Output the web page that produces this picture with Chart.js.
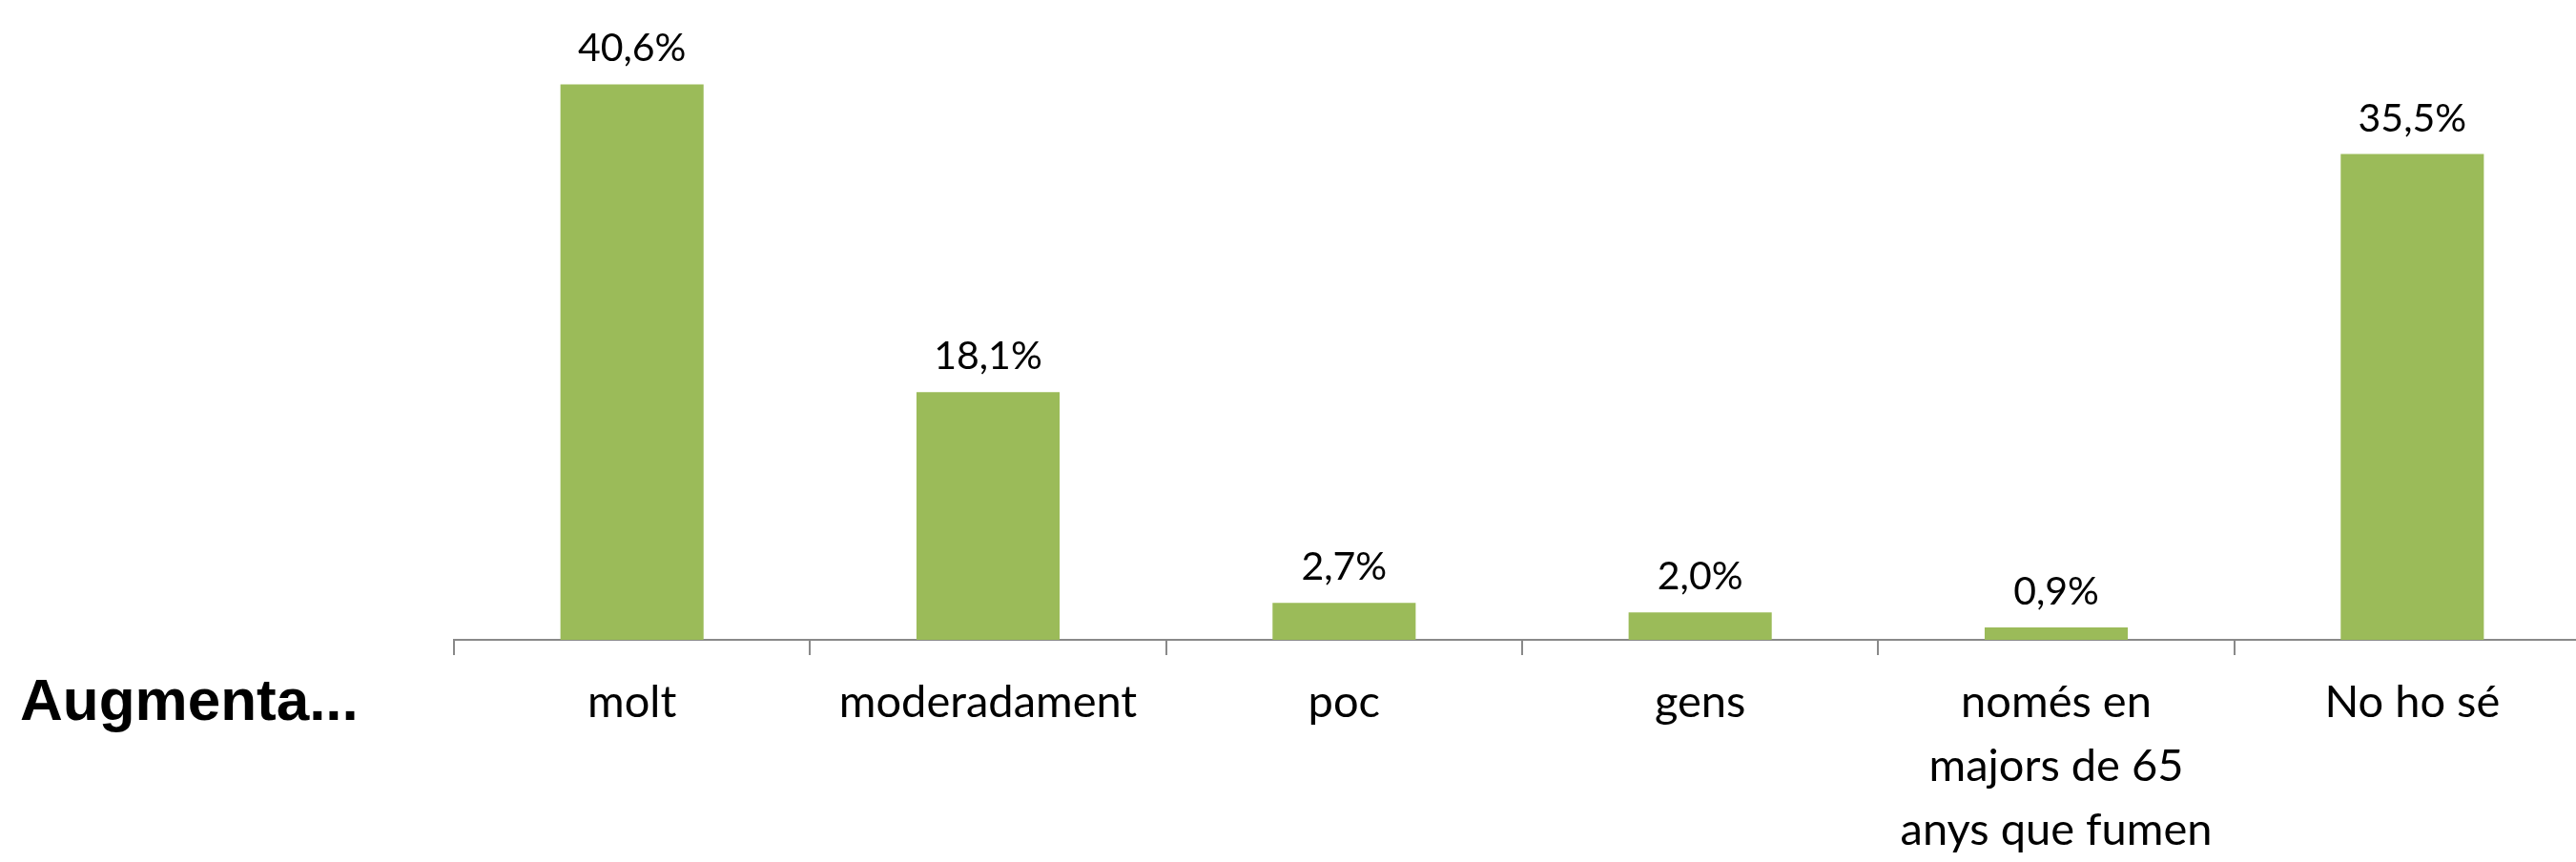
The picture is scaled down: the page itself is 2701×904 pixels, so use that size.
<!DOCTYPE html>
<html>
<head>
<meta charset="utf-8">
<script src="https://cdn.jsdelivr.net/npm/chart.js@4.4.1/dist/chart.umd.min.js"></script>
<style>
	html, body { margin: 0; padding: 0; background: #fff; overflow: hidden; }
	canvas { display: block; }
</style>
</head>
<body>
<canvas id="myChart" width="2716" height="904"></canvas>
<script>
const categories = ["molt", "moderadament", "poc", "gens", ["només en", "majors de 65", "anys que fumen"], "No ho sé"];
const values = [40.6, 18.1, 2.7, 2.0, 0.9, 35.5];
const sideTitle = "Augmenta...";

const barColor = "#9BBB59";
const axisColor = "#898989";

// value above each bar, with a comma as decimal mark
const valueLabels = {
	id: "valueLabels",
	afterDatasetsDraw(chart) {
		var ctx = chart.ctx;
		var meta = chart.getDatasetMeta(0);
		ctx.save();
		ctx.font = "41px Lato";
		ctx.fillStyle = "#000";
		ctx.textAlign = "center";
		ctx.textBaseline = "alphabetic";
		meta.data.forEach(function (bar, i) {
			var text = values[i].toFixed(1).replace(".", ",") + "%";
			ctx.fillText(text, bar.x, bar.y - 24);
		});
		ctx.restore();
	},
};

// the bold word at the left of the axis labels
const sideLabel = {
	id: "sideLabel",
	afterDraw(chart) {
		var ctx = chart.ctx;
		ctx.save();
		ctx.font = "bold 62px 'Liberation Sans'";
		ctx.fillStyle = "#000";
		ctx.textAlign = "left";
		ctx.textBaseline = "alphabetic";
		ctx.fillText(sideTitle, 21, 755);
		ctx.restore();
	},
};

window.onload = function () {
	var ctx = document.getElementById("myChart").getContext("2d");
	myChart = new Chart(ctx, {
		type: "bar",
		data: {
			labels: categories,
			datasets: [
				{
					data: values,
					backgroundColor: barColor,
					borderWidth: 0,
					categoryPercentage: 1,
					barPercentage: 0.402,
				},
			],
		},
		options: {
			responsive: false,
			animation: false,
			layout: { padding: { left: 476, right: 0, top: 0, bottom: 0 } },
			plugins: {
				legend: { display: false },
				tooltip: { enabled: false },
			},
			scales: {
				x: {
					grid: {
						offset: true,
						drawOnChartArea: false,
						drawTicks: true,
						tickLength: 16,
						color: axisColor,
						lineWidth: 2,
					},
					border: { color: axisColor, width: 2 },
					ticks: {
						color: "#000",
						padding: 16,
						maxRotation: 0,
						autoSkip: false,
						font: { family: "Lato", size: 47, lineHeight: 1.425 },
					},
					afterFit: function (scale) {
						scale.height = 233;
					},
				},
				y: {
					display: false,
					min: 0,
					max: 46.76,
				},
			},
		},
		plugins: [valueLabels, sideLabel],
	});
};
</script>
</body>
</html>
